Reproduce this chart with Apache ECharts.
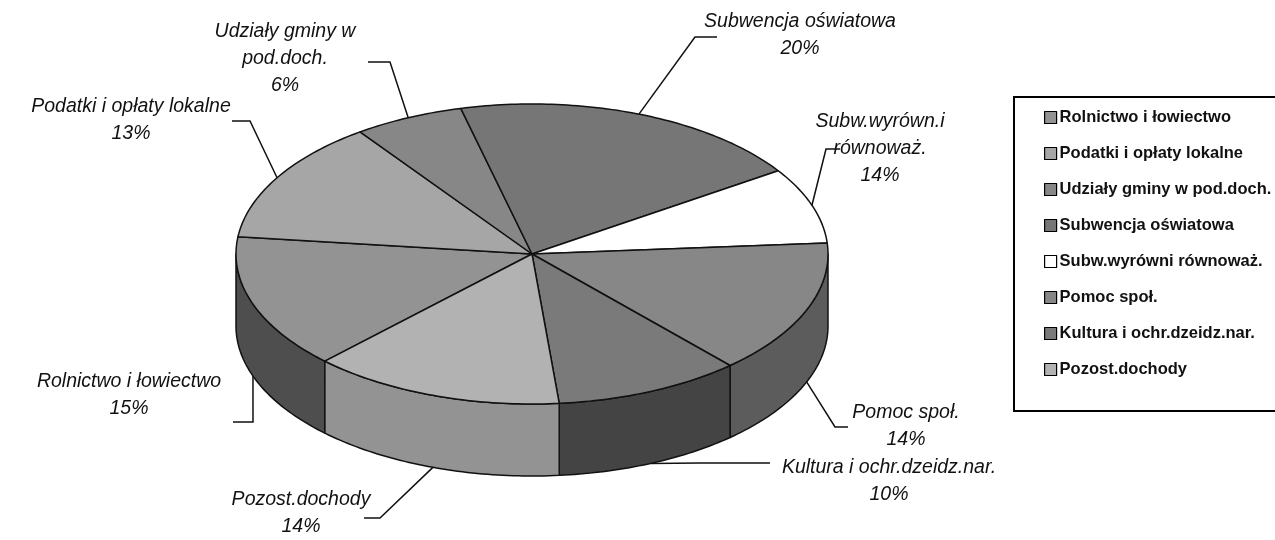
<!DOCTYPE html>
<html>
<head>
<meta charset="utf-8">
<script src="https://cdn.jsdelivr.net/npm/echarts@6/dist/echarts.min.js"></script>
<style>
  html, body { margin: 0; padding: 0; background: #fff; }
  #chart { width: 1275px; height: 540px; }
</style>
</head>
<body>
<div id="chart"></div>
<script>
// legend names (order of the series)
const categories = [
  "Rolnictwo i łowiectwo",
  "Podatki i opłaty lokalne",
  "Udziały gminy w pod.doch.",
  "Subwencja oświatowa",
  "Subw.wyrówni równoważ.",
  "Pomoc społ.",
  "Kultura i ochr.dzeidz.nar.",
  "Pozost.dochody"
];
// share of the pie as drawn
const shares = [14.5, 13.3, 6.0, 19.5, 8.2, 14.5, 10.2, 13.8];
// percent text printed on the labels
const pctLabels = ["15%", "13%", "6%", "20%", "14%", "14%", "10%", "14%"];
// label captions as printed beside the pie
const labelNames = [
  "Rolnictwo i łowiectwo",
  "Podatki i opłaty lokalne",
  "Udziały gminy w\npod.doch.",
  "Subwencja oświatowa",
  "Subw.wyrówn.i\nrównoważ.",
  "Pomoc społ.",
  "Kultura i ochr.dzeidz.nar.",
  "Pozost.dochody"
];

// styles
const topColors = ["#939393", "#a6a6a6", "#878787", "#767676", "#ffffff", "#878787", "#7a7a7a", "#b2b2b2"];
const sideColors = ["#4e4e4e", "#5c5c5c", "#4e4e4e", "#444444", "#dddddd", "#5c5c5c", "#444444", "#939393"];

// pie geometry (pixels)
const CX = 532, CY = 254, RX = 296, RY = 150, DEPTH = 72;
const START = 134.4; // degrees, clockwise on screen from 3 o'clock

// label layout: first line centre, leader elbow, leader end
const labelPos = [[129, 382], [131, 107], [285, 32], [800, 22], [880, 122], [906, 413], [889, 468], [301, 500]];
const leaderElbow = [[253, 422], [250, 121], [390, 62], [695, 37], [826, 149], [835, 427], [700, 463], [380, 518]];
const leaderEnd = [233, 232, 368, 717, 840, 848, 770, 364];

const total = shares.reduce((a, b) => a + b, 0);
const cum = [];
shares.reduce((acc, v, i) => { cum[i] = acc; return acc + v; }, 0);

function rim(deg, drop) {
  const r = deg * Math.PI / 180;
  return [CX + RX * Math.cos(r), CY + RY * Math.sin(r) + drop];
}

function arc(a, b, drop) {
  const pts = [];
  const step = (b - a) / Math.max(2, Math.ceil(Math.abs(b - a)));
  for (let k = 0; ; k++) {
    const t = a + k * step;
    if ((step > 0 && t >= b) || (step < 0 && t <= b)) break;
    pts.push(rim(t, drop));
  }
  pts.push(rim(b, drop));
  return pts;
}

const LINE = "#111";
const FONT = "italic 19.5px 'Liberation Sans', Arial, sans-serif";

function renderItem(params, api) {
  const i = params.dataIndex;
  const t1 = START + (cum[i] / total) * 360;
  const t2 = t1 + (api.value(0) / total) * 360;
  const children = [];

  // visible front wall: parts of [t1,t2] inside [0,180] or [360,540]
  [[0, 180], [360, 540]].forEach(function (w) {
    const a = Math.max(t1, w[0]), b = Math.min(t2, w[1]);
    if (b - a > 0.01) {
      const pts = arc(a, b, 0).concat(arc(b, a, DEPTH));
      children.push({
        type: "polygon",
        shape: { points: pts },
        style: { fill: sideColors[i], stroke: LINE, lineWidth: 1.5, lineJoin: "round" }
      });
    }
  });

  // top face
  children.push({
    type: "polygon",
    shape: { points: [[CX, CY]].concat(arc(t1, t2, 0)) },
    style: { fill: topColors[i], stroke: LINE, lineWidth: 1.5, lineJoin: "round" }
  });

  // leader line from mid angle
  const mid = (t1 + t2) / 2;
  const m = ((mid % 360) + 360) % 360;
  const p = rim(mid, m < 180 ? DEPTH : 0);
  children.push({
    type: "polyline",
    shape: { points: [p, leaderElbow[i], [leaderEnd[i], leaderElbow[i][1]]] },
    style: { stroke: LINE, lineWidth: 1.5, fill: null }
  });

  // label text
  children.push({
    type: "text",
    x: labelPos[i][0],
    y: labelPos[i][1] - 13.5,
    style: {
      text: labelNames[i] + "\n" + pctLabels[i],
      font: FONT,
      fill: "#111",
      align: "center",
      verticalAlign: "top",
      lineHeight: 27
    }
  });

  return { type: "group", children: children };
}

const chart = echarts.init(document.getElementById("chart"), null, { renderer: "canvas" });
chart.setOption({
  backgroundColor: "#fff",
  animation: false,
  legend: {
    orient: "vertical",
    left: 1014,
    top: 97,
    itemWidth: 12,
    itemHeight: 12,
    itemGap: 19,
    padding: [12, 90, 33, 30],
    borderColor: "#000",
    borderWidth: 2,
    icon: "rect",
    itemStyle: { borderColor: "#000", borderWidth: 1.2 },
    textStyle: {
      color: "#111",
      fontSize: 16.5,
      fontWeight: "bold",
      fontFamily: "'Liberation Sans', Arial, sans-serif",
      padding: [0, 0, 0, -2]
    },
    data: categories
  },
  series: [
    {
      // only feeds the legend
      type: "pie",
      radius: [0, 0],
      center: [-100, -100],
      silent: true,
      label: { show: false },
      labelLine: { show: false },
      data: categories.map((n, i) => ({ name: n, value: shares[i], itemStyle: { color: topColors[i] } }))
    },
    {
      type: "custom",
      coordinateSystem: "none",
      silent: true,
      renderItem: renderItem,
      data: shares.map(v => [v])
    }
  ]
});
</script>
</body>
</html>
